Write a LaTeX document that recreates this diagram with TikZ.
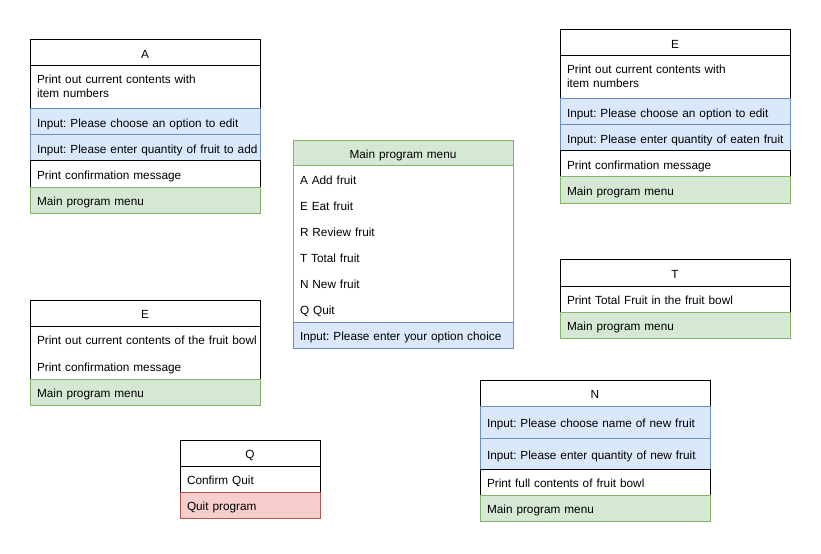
\documentclass[tikz,border=0pt]{standalone}
\usepackage{fontspec}
\setmainfont{Liberation Sans}
\usetikzlibrary{positioning}

\definecolor{inpfill}{HTML}{DAE8FC}
\definecolor{inpline}{HTML}{6C8EBF}
\definecolor{menufill}{HTML}{D5E8D4}
\definecolor{menuline}{HTML}{82B366}
\definecolor{quitfill}{HTML}{F8CECC}
\definecolor{quitline}{HTML}{B85450}

\begin{document}
\begin{tikzpicture}[
  x=1bp, y=-1bp, font=\fontsize{11.8bp}{14bp}\selectfont\frenchspacing, line width=1bp, node distance=0pt,
  cell/.style={rectangle, draw=black, fill=white, text width=230bp, minimum height=26bp, inner xsep=0pt, inner ysep=0pt, outer sep=0pt,
    text height=12bp, text depth=1bp},
  twoline/.style={minimum height=43bp, text depth=20bp},
  head/.style={cell, align=center},
  txt/.style={cell, align=left, execute at begin node={\leftskip 7bp\rightskip -6bp plus 1fil}},
  item/.style={txt, draw=none},
  inp/.style={txt, draw=inpline, fill=inpfill},
  menu/.style={txt, draw=menuline, fill=menufill},
  quit/.style={txt, draw=quitline, fill=quitfill}]
\useasboundingbox (0,0) rectangle (821,554);
% A: add fruit
\node[head, anchor=north west] (ahead) at (30,40) {A};
\node[txt, twoline, below=of ahead] (alist) {Print out current contents with\\item numbers};
\node[inp, below=of alist] (aopt) {Input: Please choose an option to edit};
\node[inp, below=of aopt] (aqty) {Input: Please enter quantity of fruit to add};
\node[txt, below=of aqty] (aconf) {Print confirmation message};
\node[menu, below=of aconf] (amenu) {Main program menu};
% main menu
\node[head, text width=220bp, draw=menuline, fill=menufill, minimum height=25bp, anchor=north west] (mhead) at (293,141) {Main program menu};
\node[item, text width=220bp, below=of mhead] (ma) {A Add fruit};
\node[item, text width=220bp, below=of ma] (me) {E Eat fruit};
\node[item, text width=220bp, below=of me] (mr) {R Review fruit};
\node[item, text width=220bp, below=of mr] (mt) {T Total fruit};
\node[item, text width=220bp, below=of mt] (mn) {N New fruit};
\node[item, text width=220bp, below=of mn] (mq) {Q Quit};
\draw[menuline] (mhead.south west) rectangle (mq.south east);
\node[inp, text width=220bp, below=of mq] (mchoice) {Input: Please enter your option choice};
% E: eat fruit
\node[head, anchor=north west] (ehead) at (560,30) {E};
\node[txt, twoline, below=of ehead] (elist) {Print out current contents with\\item numbers};
\node[inp, below=of elist] (eopt) {Input: Please choose an option to edit};
\node[inp, below=of eopt] (eqty) {Input: Please enter quantity of eaten fruit};
\node[txt, below=of eqty] (econf) {Print confirmation message};
\node[menu, below=of econf] (emenu) {Main program menu};
% E: review
\node[head, anchor=north west] (revhead) at (30,300) {E};
\node[item, minimum height=26.5bp, below=of revhead] (revbowl) {Print out current contents of the fruit bowl};
\node[item, minimum height=26.5bp, below=of revbowl] (revconf) {Print confirmation message};
\draw (revhead.south west) rectangle (revconf.south east);
\node[menu, below=of revconf] (revmenu) {Main program menu};
% T: total
\node[head, anchor=north west] (thead) at (560,260) {T};
\node[txt, below=of thead] (ttotal) {Print Total Fruit in the fruit bowl};
\node[menu, below=of ttotal] (tmenu) {Main program menu};
% Q: quit
\node[head, text width=140bp, anchor=north west] (qhead) at (180,440) {Q};
\node[txt, text width=140bp, below=of qhead] (qconfirm) {Confirm Quit};
\node[quit, text width=140bp, below=of qconfirm] (qquit) {Quit program};
% N: new fruit
\node[head, anchor=north west] (nhead) at (480,380) {N};
\node[inp, minimum height=32bp, below=of nhead] (nname) {Input: Please choose name of new fruit};
\node[inp, minimum height=31bp, below=of nname] (nqty) {Input: Please enter quantity of new fruit};
\node[txt, below=of nqty] (nshow) {Print full contents of fruit bowl};
\node[menu, below=of nshow] (nmenu) {Main program menu};
\end{tikzpicture}
\end{document}
